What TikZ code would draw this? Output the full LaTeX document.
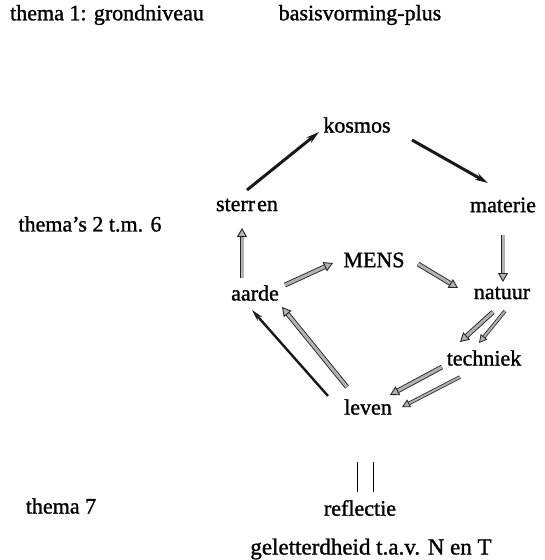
\documentclass[tikz,border=0pt]{standalone}
\usepackage{fontspec}
\setmainfont{Liberation Serif}[FakeBold=1.2]
\usetikzlibrary{arrows.meta,calc}
\tikzset{
  lbl/.style={inner sep=0pt, font=\fontsize{22}{26}\selectfont},
  darkarrow/.style={line width=3pt, black!90, -{Stealth[length=13pt,width=7pt]}},
  thinarrow/.style={line width=2.4pt, black!90, -{Stealth[length=12pt,width=6pt]}},
  greyarrow/.style={draw=black!85, line width=0.9pt, double=gray!60, double distance=3pt,
     -{Triangle[length=9pt,width=10pt,fill=gray!60,color=black!85,line width=0.9pt]}},
  greythin/.style={draw=black!85, line width=0.8pt, double=gray!60, double distance=2pt,
     -{Triangle[length=8pt,width=8.5pt,fill=gray!60,color=black!85,line width=0.8pt]}},
  bar/.style={line width=0.9pt, black}
}
\begin{document}
\begin{tikzpicture}[x=1pt,y=-1pt]
\useasboundingbox (0,0) rectangle (544,560);
\node[lbl] (t1) at (107,15) {thema 1: grondniveau};
\node[lbl] (bp) at (360,15) {basisvorming-plus};
\node[lbl] (t26) at (90,224) {thema's 2 t.m. 6};
\node[lbl] (t7) at (61,506) {thema 7};
\node[lbl] (kosmos) at (357,125) {kosmos};
\node[lbl] (sterren) at (247,205) {sterr\hspace{2pt}en};
\node[lbl] (materie) at (503,205) {materie};
\node[lbl] (mens) at (374,260) {MENS};
\node[lbl] (aarde) at (255,293) {aarde};
\node[lbl] (natuur) at (502,293) {natuur};
\node[lbl] (techniek) at (484,358) {techniek};
\node[lbl] (leven) at (368,407) {leven};
\node[lbl] (refl) at (360,508) {reflectie};
\node[lbl, font=\fontsize{23}{27}\selectfont] (gel) at (371,549) {geletterdheid t.a.v. N en T};
% dark arrows
\draw[darkarrow] ($(sterren)+(0,-15)$) -- ($(kosmos)+(-38,7)$);
\draw[darkarrow] ($(kosmos)+(55,15)$) -- ($(materie)+(-15,-22)$);
% grey arrows
\draw[greyarrow] ($(aarde)+(-13,-15)$) -- ($(sterren)+(-5,23)$);
\draw[greyarrow] ($(materie)+(0,30)$) -- ($(natuur)+(1,-11)$);
\draw[greyarrow] ($(aarde)+(30,-8)$) -- ($(mens)+(-41,3)$);
\draw[greyarrow] ($(mens)+(44,4)$) -- ($(natuur)+(-44,-5)$);
\draw[greyarrow] ($(natuur)+(-9,19)$) -- ($(techniek)+(-24,-16)$);
\draw[greythin] ($(natuur)+(3,18)$) -- ($(techniek)+(-5,-15)$);
\draw[greyarrow] ($(techniek)+(-42,9)$) -- ($(leven)+(22,-12)$);
\draw[greythin] ($(techniek)+(-24,19)$) -- ($(leven)+(34,0)$);
\draw[thinarrow] ($(leven)+(-40,-11)$) -- ($(aarde)+(-3,17)$);
\draw[greyarrow] ($(leven)+(-21,-20)$) -- ($(aarde)+(27,14)$);
% reflection bars
\coordinate (b1t) at (357,462); \coordinate (b1b) at (357,492);
\coordinate (b2t) at (373,462); \coordinate (b2b) at (373,492);
\draw[bar] (b1t) -- (b1b);
\draw[bar] (b2t) -- (b2b);
\end{tikzpicture}
\end{document}
